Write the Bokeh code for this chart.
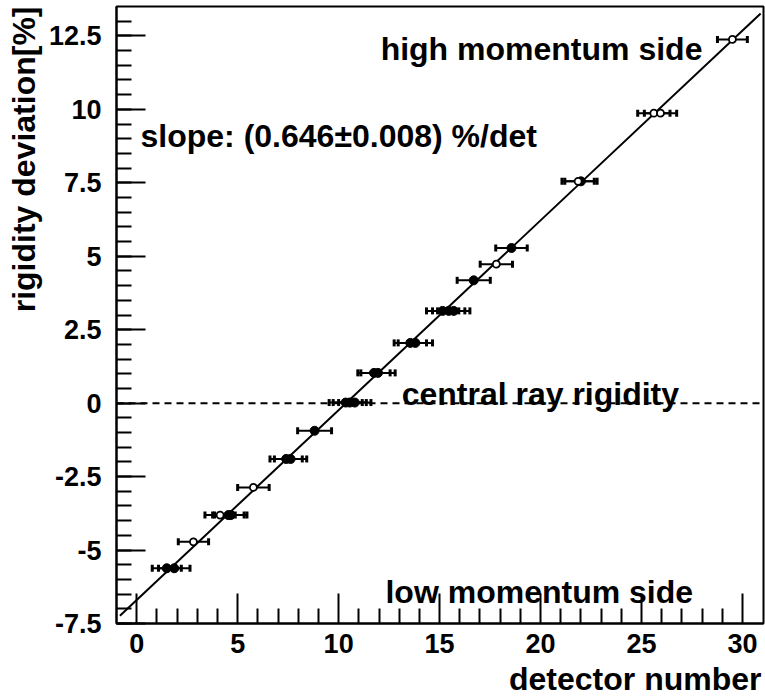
from bokeh.plotting import figure
from bokeh.models import ColumnDataSource, Whisker, FixedTicker, Label, Span, TeeHead, Title
from bokeh.embed import file_html
from bokeh.resources import INLINE

# ---- data ----
det_filled = [1.49, 1.86, 4.54, 4.66, 7.40, 7.62, 8.81, 10.35, 10.55, 10.80,
              11.75, 11.95, 13.55, 13.80, 15.15, 15.45, 15.70, 16.69, 18.56, 22.00]
dev_filled = [-5.62, -5.62, -3.81, -3.81, -1.90, -1.90, -0.94, 0.02, 0.02, 0.02,
              1.03, 1.03, 2.05, 2.05, 3.14, 3.14, 3.14, 4.18, 5.28, 7.55]
err_filled = [0.72, 0.78, 0.78, 0.80, 0.80, 0.80, 0.84, 0.82, 0.82, 0.80,
              0.80, 0.85, 0.80, 0.85, 0.80, 0.80, 0.80, 0.82, 0.78, 0.80]

det_open = [2.81, 4.13, 5.78, 17.81, 21.86, 25.61, 25.94, 29.50]
dev_open = [-4.72, -3.81, -2.87, 4.73, 7.55, 9.87, 9.87, 12.38]
err_open = [0.75, 0.75, 0.78, 0.80, 0.80, 0.80, 0.80, 0.74]

fit_slope = 0.646
fit_intercept = -6.70
fit_range = [-0.83, 30.9]

x_ticks = [0, 5, 10, 15, 20, 25, 30]
x_tick_labels = ["0", "5", "10", "15", "20", "25", "30"]
y_ticks = [-7.5, -5, -2.5, 0, 2.5, 5, 7.5, 10, 12.5]
y_tick_labels = ["-7.5", "-5", "-2.5", "0", "2.5", "5", "7.5", "10", "12.5"]

FONT = "Liberation Sans"

p = figure(width=765, height=700, x_range=(-1, 31.04), y_range=(-7.5, 13.5),
           output_backend="svg", toolbar_location=None,
           min_border_left=116, min_border_right=2, min_border_top=6, min_border_bottom=77)
p.grid.visible = False
p.outline_line_color = "black"
p.outline_line_width = 2
p.background_fill_color = "white"
p.border_fill_color = "white"

for ax in (p.xaxis[0], p.yaxis[0]):
    ax.axis_line_width = 2
    ax.major_tick_line_width = 2
    ax.minor_tick_line_width = 2
    ax.major_tick_out = 0
    ax.minor_tick_out = 0
    ax.major_label_text_font = FONT
    ax.major_label_text_font_style = "bold"
    ax.major_label_text_font_size = "27px"
    ax.major_label_text_color = "black"

p.xaxis[0].ticker = FixedTicker(ticks=x_ticks,
                                minor_ticks=[i for i in range(0, 31) if i % 5 != 0])
p.xaxis[0].major_label_overrides = dict(zip(x_ticks, x_tick_labels))
p.xaxis[0].major_tick_in = 30
p.xaxis[0].minor_tick_in = 15
p.xaxis[0].major_label_standoff = 10

p.yaxis[0].ticker = FixedTicker(ticks=y_ticks,
                                minor_ticks=[-7.5 + 0.5 * i for i in range(42)])
p.yaxis[0].major_label_overrides = dict(zip(y_ticks, y_tick_labels))
p.yaxis[0].major_tick_in = 29
p.yaxis[0].minor_tick_in = 15
p.yaxis[0].major_label_standoff = 15

# axis titles (ROOT style: at the far end of each axis)
p.add_layout(Title(text="detector number", align="right", text_font=FONT,
                   text_font_style="bold", text_font_size="32px",
                   text_color="black", standoff=7, offset=2), "below")
p.add_layout(Title(text="rigidity deviation[%]", align="right", text_font=FONT,
                   text_font_style="bold", text_font_size="32px",
                   text_color="black", standoff=7, offset=0), "left")

# central ray line
p.add_layout(Span(location=0, dimension="width", line_color="black",
                  line_width=2, line_dash="7 5"))

# error bars
all_x = det_filled + det_open
all_y = dev_filled + dev_open
all_e = err_filled + err_open
esrc = ColumnDataSource(dict(y=all_y,
                             lo=[x - e for x, e in zip(all_x, all_e)],
                             hi=[x + e for x, e in zip(all_x, all_e)]))
wh = Whisker(source=esrc, base="y", lower="lo", upper="hi", dimension="width",
             line_color="black", line_width=2, level="underlay",
             lower_head=TeeHead(size=7, line_width=3, line_color="black"),
             upper_head=TeeHead(size=7, line_width=3, line_color="black"))
p.add_layout(wh)

# fit line
p.line(fit_range, [fit_slope * x + fit_intercept for x in fit_range],
       line_color="black", line_width=2)

# markers
p.scatter(det_filled, dev_filled, marker="circle", size=9,
          fill_color="black", line_color="black")
p.scatter(det_open, dev_open, marker="circle", size=7,
          fill_color="white", line_color="black", line_width=1.8)

def lab(x, y, t, size="32px"):
    p.add_layout(Label(x=x, y=y, text=t, text_font=FONT, text_font_style="bold",
                       text_font_size=size, text_color="black", text_align="left",
                       text_baseline="alphabetic"))

lab(12.08, 12.04, "high momentum side")
lab(0.19, 9.08, "slope: (0.646\u00b10.008) %/det")
lab(13.12, 0.32, "central ray rigidity")
lab(12.32, -6.43, "low momentum side")

open("out.html", "w").write(file_html(p, INLINE))
